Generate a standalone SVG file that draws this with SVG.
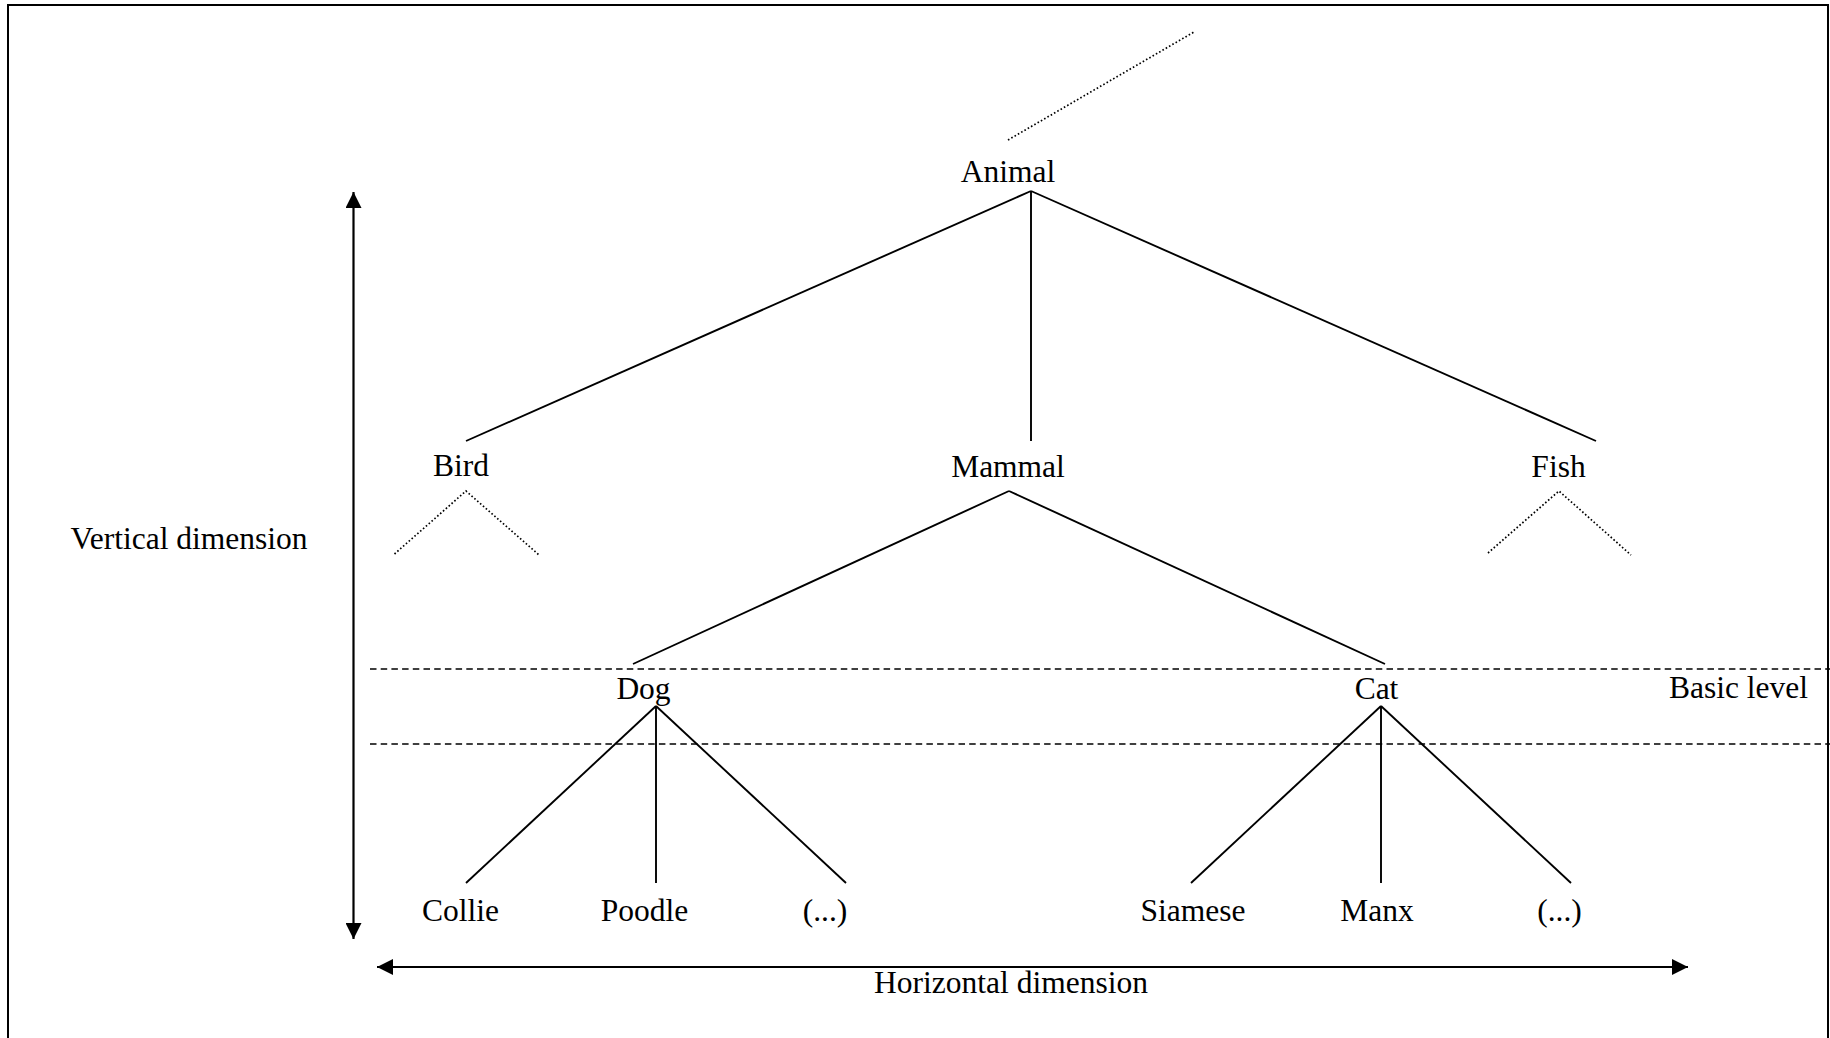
<svg xmlns="http://www.w3.org/2000/svg" width="1830" height="1038" viewBox="0 0 1830 1038">
  <defs>
    <marker id="arrow" viewBox="0 0 16 16" refX="16" refY="8" markerWidth="16" markerHeight="16" markerUnits="userSpaceOnUse" orient="auto">
      <path d="M0,0 L16,8 L0,16 Z" fill="#000"/>
    </marker>
    <marker id="arrow-start" viewBox="0 0 16 16" refX="0" refY="8" markerWidth="16" markerHeight="16" markerUnits="userSpaceOnUse" orient="auto">
      <path d="M16,0 L0,8 L16,16 Z" fill="#000"/>
    </marker>
  </defs>
  <style>
    text { font-family: "Liberation Serif", "Times New Roman", serif; font-size: 31.5px; fill: #000; }
    .mid { text-anchor: middle; }
    .edge { stroke: #000; stroke-width: 1.9; fill: none; }
    .dotted { stroke: #000; stroke-width: 1.7; stroke-dasharray: 1.6 2.2; fill: none; }
    .level { stroke: #000; stroke-width: 1.6; stroke-dasharray: 6.5 4.2; fill: none; }
    .axis { stroke: #000; stroke-width: 2.2; fill: none; }
  </style>

  <rect width="1830" height="1038" fill="#fff"/>
  <!-- frame (open at the bottom) -->
  <path d="M8,1040 L8,5 L1828,5 L1828,1040" fill="none" stroke="#000" stroke-width="2"/>

  <!-- connectors -->
  <g id="connectors">
    <line class="dotted" x1="1008" y1="140" x2="1194" y2="32"/>
    <line class="edge" x1="1031" y1="191" x2="466" y2="441"/>
    <line class="edge" x1="1031" y1="191" x2="1031" y2="441"/>
    <line class="edge" x1="1031" y1="191" x2="1596" y2="441"/>
    <polyline class="dotted" points="394.5,554 466,491 539,555"/>
    <polyline class="dotted" points="1488,553 1559,491 1631,555"/>
    <line class="edge" x1="1009" y1="491" x2="633" y2="664"/>
    <line class="edge" x1="1009" y1="491" x2="1385" y2="664"/>
    <line class="edge" x1="656" y1="706" x2="466" y2="883"/>
    <line class="edge" x1="656" y1="706" x2="656" y2="883"/>
    <line class="edge" x1="656" y1="706" x2="846" y2="883"/>
    <line class="edge" x1="1381" y1="706" x2="1191" y2="883"/>
    <line class="edge" x1="1381" y1="706" x2="1381" y2="883"/>
    <line class="edge" x1="1381" y1="706" x2="1571" y2="883"/>
  </g>

  <!-- basic level band -->
  <g id="basic-level">
    <line class="level" x1="370" y1="669" x2="1830" y2="669"/>
    <line class="level" x1="370" y1="744" x2="1830" y2="744"/>
    <text x="1669" y="698">Basic level</text>
  </g>

  <!-- dimension axes -->
  <g id="vertical-dimension">
    <line class="axis" x1="353.5" y1="192" x2="353.5" y2="939" marker-start="url(#arrow-start)" marker-end="url(#arrow)"/>
    <text class="mid" x="189" y="549">Vertical dimension</text>
  </g>
  <g id="horizontal-dimension">
    <line class="axis" x1="377" y1="967" x2="1688" y2="967" stroke-width="2.8" marker-start="url(#arrow-start)" marker-end="url(#arrow)"/>
    <text class="mid" x="1011" y="993">Horizontal dimension</text>
  </g>

  <!-- nodes -->
  <g id="node-animal"><text class="mid" x="1008" y="182">Animal</text></g>
  <g id="node-bird"><text class="mid" x="461" y="476">Bird</text></g>
  <g id="node-mammal"><text class="mid" x="1008" y="477">Mammal</text></g>
  <g id="node-fish"><text class="mid" x="1558.5" y="477">Fish</text></g>
  <g id="node-dog"><text class="mid" x="643.5" y="699">Dog</text></g>
  <g id="node-cat"><text class="mid" x="1376.5" y="699">Cat</text></g>
  <g id="node-collie"><text class="mid" x="460.5" y="921">Collie</text></g>
  <g id="node-poodle"><text class="mid" x="644.5" y="921">Poodle</text></g>
  <g id="node-dog-more"><text class="mid" x="825" y="921">(...)</text></g>
  <g id="node-siamese"><text class="mid" x="1193" y="921">Siamese</text></g>
  <g id="node-manx"><text class="mid" x="1377" y="921">Manx</text></g>
  <g id="node-cat-more"><text class="mid" x="1559.5" y="921">(...)</text></g>
</svg>
